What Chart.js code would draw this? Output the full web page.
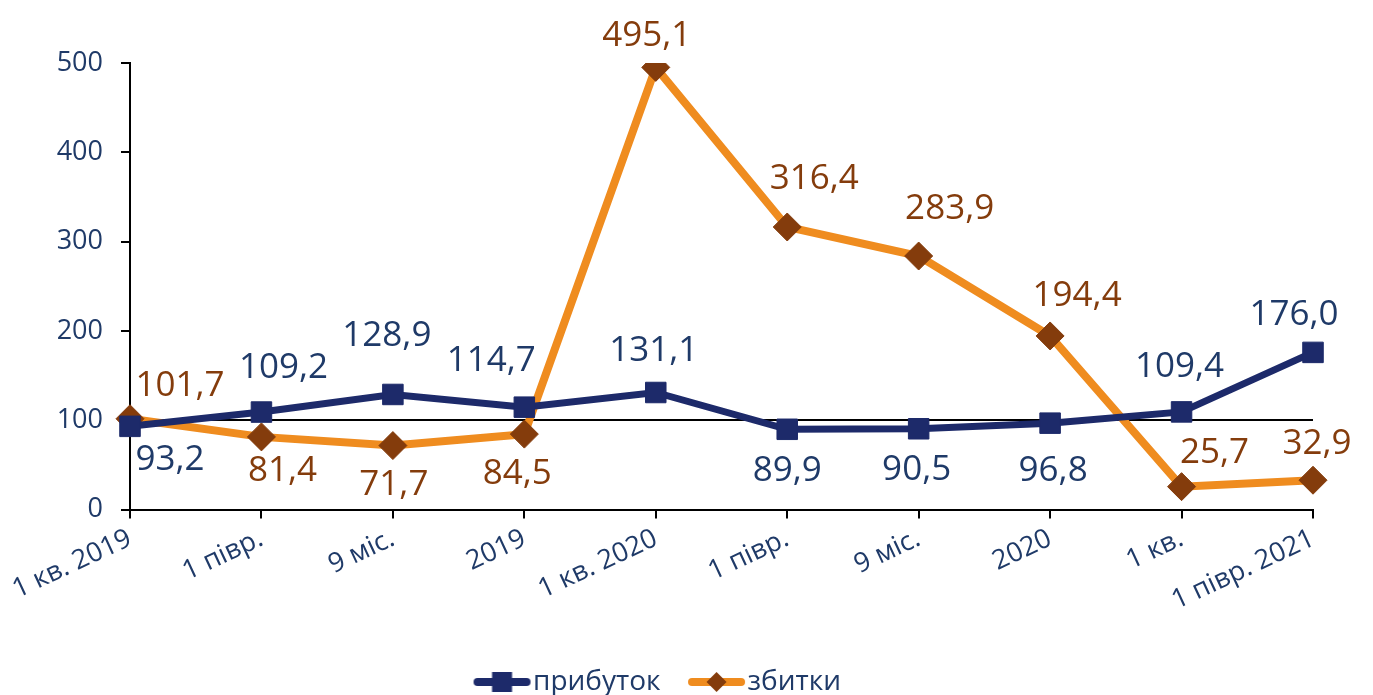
<!DOCTYPE html>
<html lang="uk">
<head>
<meta charset="utf-8">
<script src="https://cdn.jsdelivr.net/npm/chart.js@4.4.1/dist/chart.umd.min.js"></script>
<style>
  html, body { margin: 0; padding: 0; background: #fff; }
  #wrap { width: 1373px; height: 695px; }
</style>
</head>
<body>
<div id="wrap"><canvas id="chart" width="1373" height="695"></canvas></div>
<script>
// ---------- Data ----------
const periods = ["1 кв. 2019", "1 півр.", "9 міс.", "2019", "1 кв. 2020", "1 півр.", "9 міс.", "2020", "1 кв.", "1 півр. 2021"];
const profit = [93.2, 109.2, 128.9, 114.7, 131.1, 89.9, 90.5, 96.8, 109.4, 176.0];
const losses = [101.7, 81.4, 71.7, 84.5, 495.1, 316.4, 283.9, 194.4, 25.7, 32.9];
const seriesNames = ["прибуток", "збитки"];
const baseLevel = 100;

// ---------- Styling ----------
const NAVY = "#1d2a6a";
const NAVY_TEXT = "#1f3a68";
const ORANGE = "#ef8c1f";
const BROWN = "#843c0c";
const FONT = "'Open Sans', 'Noto Sans', sans-serif";

// label offsets (text centre relative to point), px
const profitLabelOffsets = [[40, 31], [22, -47], [-6, -61], [-33, -49], [-2, -44], [0, 39], [-2, 39], [3, 45], [-2, -47], [-19, -40]];
const lossLabelOffsets = [[50, -35], [21, 32], [1, 37], [-7, 37], [-9, -34], [27, -50], [31, -50], [27, -42], [33, -36], [4, -39]];

function fmt(v) {
  return v.toFixed(1).replace(".", ",");
}

// legend icon: line with marker
function legendIcon(lineColor, markerColor, shape) {
  const c = document.createElement("canvas");
  c.width = 72;
  c.height = 26;
  const g = c.getContext("2d");
  g.strokeStyle = lineColor;
  g.lineWidth = 8;
  g.lineCap = "round";
  g.beginPath();
  g.moveTo(18, 13);
  g.lineTo(67, 13);
  g.stroke();
  g.fillStyle = markerColor;
  const cx = 42.5;
  if (shape === "rect") {
    g.fillRect(cx - 10, 3, 20, 20);
  } else {
    g.beginPath();
    g.moveTo(cx, 3);
    g.lineTo(cx + 10, 13);
    g.lineTo(cx, 23);
    g.lineTo(cx - 10, 13);
    g.closePath();
    g.fill();
  }
  return c;
}
const icons = [legendIcon(NAVY, NAVY, "rect"), legendIcon(ORANGE, BROWN, "diamond")];

// horizontal line at 100
const baseLine = {
  id: "baseLine",
  beforeDatasetsDraw(chart) {
    const { ctx, chartArea, scales } = chart;
    const y = Math.round(scales.y.getPixelForValue(baseLevel));
    ctx.save();
    ctx.strokeStyle = "#000";
    ctx.lineWidth = 2;
    ctx.beginPath();
    ctx.moveTo(chartArea.left, y);
    ctx.lineTo(chartArea.right, y);
    ctx.stroke();
    ctx.restore();
  },
};

// value labels
const valueLabels = {
  id: "valueLabels",
  afterDatasetsDraw(chart) {
    const ctx = chart.ctx;
    const sets = [
      { offs: profitLabelOffsets, color: NAVY_TEXT },
      { offs: lossLabelOffsets, color: BROWN },
    ];
    ctx.save();
    ctx.font = "35px " + FONT;
    ctx.textAlign = "center";
    ctx.textBaseline = "alphabetic";
    chart.data.datasets.forEach((ds, di) => {
      const meta = chart.getDatasetMeta(di);
      ctx.fillStyle = sets[di].color;
      meta.data.forEach((pt, i) => {
        const [dx, dy] = sets[di].offs[i];
        ctx.fillText(fmt(ds.data[i]), pt.x + dx, pt.y + dy + 12.5);
      });
    });
    ctx.restore();
  },
};

const defaultGen = Chart.defaults.plugins.legend.labels.generateLabels;

new Chart(document.getElementById("chart"), {
  type: "line",
  data: {
    labels: periods,
    datasets: [
      {
        label: seriesNames[0],
        data: profit,
        borderColor: NAVY,
        backgroundColor: NAVY,
        borderWidth: 7,
        pointStyle: "rect",
        pointRadius: 14.5,
        pointBorderWidth: 1,
        pointBorderColor: NAVY,
        pointBackgroundColor: NAVY,
        tension: 0,
      },
      {
        label: seriesNames[1],
        data: losses,
        borderColor: ORANGE,
        backgroundColor: ORANGE,
        borderWidth: 8,
        pointStyle: "rectRot",
        pointRadius: 14,
        pointBorderWidth: 1,
        pointBorderColor: BROWN,
        pointBackgroundColor: BROWN,
        tension: 0,
      },
    ],
  },
  options: {
    responsive: false,
    animation: false,
    layout: { padding: { top: 63, right: 60, left: 0, bottom: -11 } },
    scales: {
      x: {
        offset: false,
        afterFit(scale) { scale.height += 21; },
        grid: { display: true, drawOnChartArea: false, drawTicks: true, tickLength: 9, color: "#000", lineWidth: 2, offset: false },
        border: { display: true, color: "#000", width: 2 },
        ticks: {
          color: NAVY_TEXT,
          font: { family: FONT, size: 27 },
          maxRotation: 25,
          minRotation: 25,
          autoSkip: false,
          padding: 4,
        },
      },
      y: {
        min: 0,
        max: 500,
        afterFit(scale) { scale.width = 130; },
        grid: { display: true, drawOnChartArea: false, drawTicks: true, tickLength: 9, color: "#000", lineWidth: 2 },
        border: { display: true, color: "#000", width: 2 },
        ticks: {
          stepSize: 100,
          color: NAVY_TEXT,
          font: { family: FONT, size: 27 },
          padding: 18,
        },
      },
    },
    plugins: {
      tooltip: { enabled: false },
      legend: {
        position: "bottom",
        labels: {
          usePointStyle: true,
          pointStyleWidth: 47,
          color: NAVY_TEXT,
          font: { family: FONT, size: 28 },
          padding: 26,
          generateLabels(chart) {
            const items = defaultGen(chart);
            items.forEach((it, i) => { it.pointStyle = icons[i]; it.fontColor = NAVY_TEXT; });
            return items;
          },
        },
      },
    },
  },
  plugins: [baseLine, valueLabels],
});
</script>
</body>
</html>
